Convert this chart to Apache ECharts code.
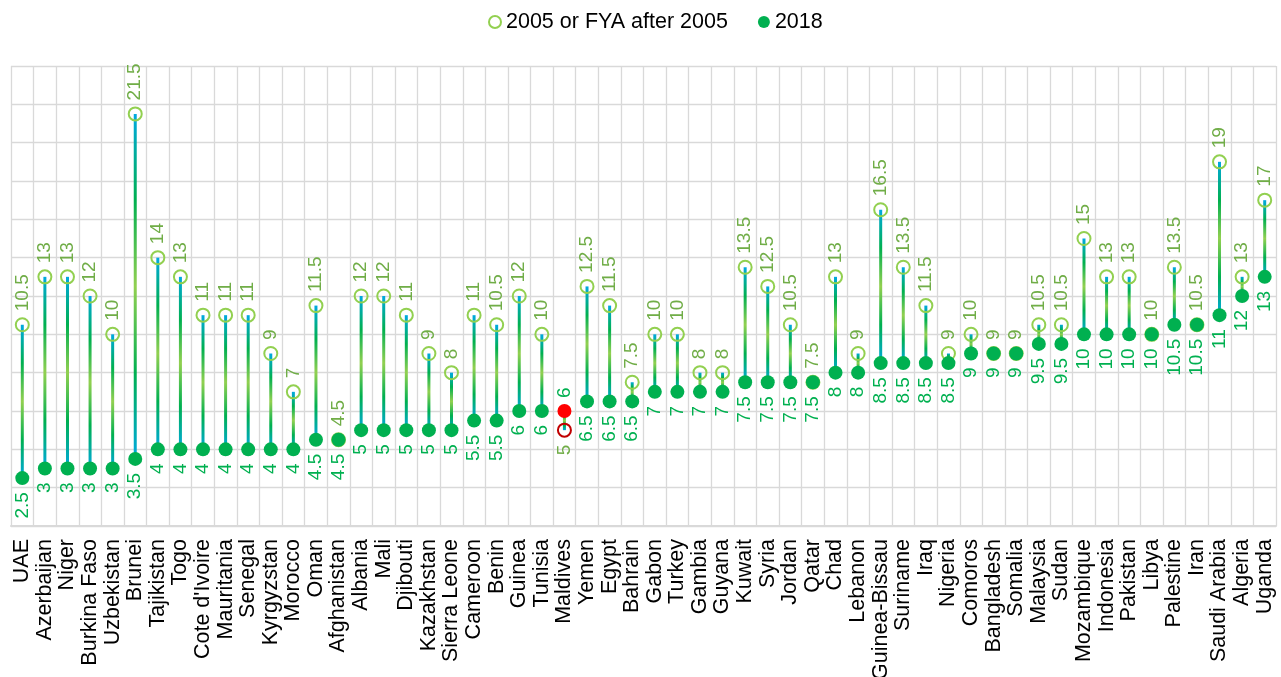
<!DOCTYPE html>
<html>
<head>
<meta charset="utf-8">
<script src="https://cdn.jsdelivr.net/npm/echarts@6/dist/echarts.min.js"></script>
<style>
  html, body { margin: 0; padding: 0; background: #fff; }
  #chart { width: 1281px; height: 677px; }
</style>
</head>
<body>
<div id="chart"></div>
<script>
const countries = [
  "UAE", "Azerbaijan", "Niger", "Burkina Faso", "Uzbekistan", "Brunei", "Tajikistan", "Togo",
  "Cote d'Ivoire", "Mauritania", "Senegal", "Kyrgyzstan", "Morocco", "Oman", "Afghanistan",
  "Albania", "Mali", "Djibouti", "Kazakhstan", "Sierra Leone", "Cameroon", "Benin", "Guinea",
  "Tunisia", "Maldives", "Yemen", "Egypt", "Bahrain", "Gabon", "Turkey", "Gambia", "Guyana",
  "Kuwait", "Syria", "Jordan", "Qatar", "Chad", "Lebanon", "Guinea-Bissau", "Suriname", "Iraq",
  "Nigeria", "Comoros", "Bangladesh", "Somalia", "Malaysia", "Sudan", "Mozambique", "Indonesia",
  "Pakistan", "Libya", "Palestine", "Iran", "Saudi Arabia", "Algeria", "Uganda"
];
const v2005 = [
  10.5, 13, 13, 12, 10, 21.5, 14, 13, 11, 11, 11, 9, 7, 11.5, 4.5,
  12, 12, 11, 9, 8, 11, 10.5, 12, 10, 5, 12.5, 11.5, 7.5, 10, 10, 8, 8,
  13.5, 12.5, 10.5, 7.5, 13, 9, 16.5, 13.5, 11.5, 9, 10, 9, 9, 10.5, 10.5, 15, 13,
  13, 10, 13.5, 10.5, 19, 13, 17
];
const v2018 = [
  2.5, 3, 3, 3, 3, 3.5, 4, 4, 4, 4, 4, 4, 4, 4.5, 4.5,
  5, 5, 5, 5, 5, 5.5, 5.5, 6, 6, 6, 6.5, 6.5, 6.5, 7, 7, 7, 7,
  7.5, 7.5, 7.5, 7.5, 8, 8, 8.5, 8.5, 8.5, 8.5, 9, 9, 9, 9.5, 9.5, 10, 10,
  10, 10, 10.5, 10.5, 11, 12, 13
];
const highlight = "Maldives";
const yTicks = { min: 0, max: 24, interval: 2 };

const FONT = "'Liberation Sans', Arial, sans-serif";
const C_OPEN = "#92d050", C_FILL = "#00b050";
const C_OPEN_LBL = "#70ad47", C_FILL_LBL = "#00b050";

// cyan -> green -> light green -> green -> cyan along each connector
const lineGrad = new echarts.graphic.LinearGradient(0, 0, 0, 1, [
  { offset: 0, color: "#00a9e0" },
  { offset: 0.25, color: "#00b050" },
  { offset: 0.5, color: "#92d050" },
  { offset: 0.75, color: "#00b050" },
  { offset: 1, color: "#00a9e0" }
]);

const baseVals = countries.map((c, i) => Math.min(v2005[i], v2018[i]));
const spanVals = countries.map((c, i) => Math.abs(v2005[i] - v2018[i]));

const topLabel = { show: true, position: "top", rotate: 90, align: "left", verticalAlign: "middle",
  distance: 6, fontFamily: FONT, fontSize: 19 };
const botLabel = { show: true, position: "bottom", rotate: 90, align: "right", verticalAlign: "middle",
  distance: 7, fontFamily: FONT, fontSize: 19 };

const openData = countries.map((c, i) => {
  const d = { value: v2005[i] };
  if (c === highlight) {
    d.itemStyle = { borderColor: "#c00000" };
    d.label = v2005[i] < v2018[i] ? { ...botLabel, color: C_OPEN_LBL } : undefined;
  }
  return d;
});
const fillData = countries.map((c, i) => {
  const d = { value: v2018[i] };
  if (c === highlight) {
    d.itemStyle = { color: "#ff0000" };
    d.label = v2018[i] > v2005[i] ? { ...topLabel, color: C_FILL_LBL } : undefined;
  }
  return d;
});

const chart = echarts.init(document.getElementById("chart"), null, { renderer: "canvas" });
chart.setOption({
  animation: false,
  backgroundColor: "#fff",
  textStyle: { fontFamily: FONT },
  legend: {
    top: 6, left: 483,
    itemWidth: 12, itemHeight: 12, itemGap: 30,
    textStyle: { fontFamily: FONT, fontSize: 21.5, color: "#000" },
    data: ["2005 or FYA after 2005", "2018"]
  },
  grid: { left: 11, right: 5, top: 66, bottom: 151, outerBoundsMode: "none" },
  xAxis: {
    type: "category",
    data: countries,
    axisLine: { lineStyle: { color: "#d9d9d9", width: 2 } },
    axisTick: { show: false },
    splitLine: { show: true, interval: 0, lineStyle: { color: "#d9d9d9", width: 1.3 } },
    axisLabel: { interval: 0, rotate: 90, margin: 13, color: "#000", fontFamily: FONT, fontSize: 21.5 }
  },
  yAxis: {
    type: "value",
    min: yTicks.min, max: yTicks.max, interval: yTicks.interval,
    axisLabel: { show: false },
    axisLine: { show: false },
    axisTick: { show: false },
    splitLine: { lineStyle: { color: "#d9d9d9", width: 1.3 } }
  },
  series: [
    {
      type: "bar", stack: "rng", barWidth: 3, silent: true, z: 1,
      itemStyle: { color: "transparent" },
      data: baseVals
    },
    {
      type: "bar", stack: "rng", barWidth: 3, silent: true, z: 1,
      itemStyle: { color: lineGrad },
      data: spanVals
    },
    {
      name: "2005 or FYA after 2005",
      type: "scatter", symbol: "circle", symbolSize: 13, z: 3,
      itemStyle: { color: "rgba(255,255,255,0)", borderColor: C_OPEN, borderWidth: 2, opacity: 1 },
      label: { ...topLabel, color: C_OPEN_LBL },
      data: openData
    },
    {
      name: "2018",
      type: "scatter", symbol: "circle", symbolSize: 14, z: 4,
      itemStyle: { color: C_FILL, opacity: 1 },
      label: { ...botLabel, color: C_FILL_LBL },
      data: fillData
    }
  ]
});
</script>
</body>
</html>
